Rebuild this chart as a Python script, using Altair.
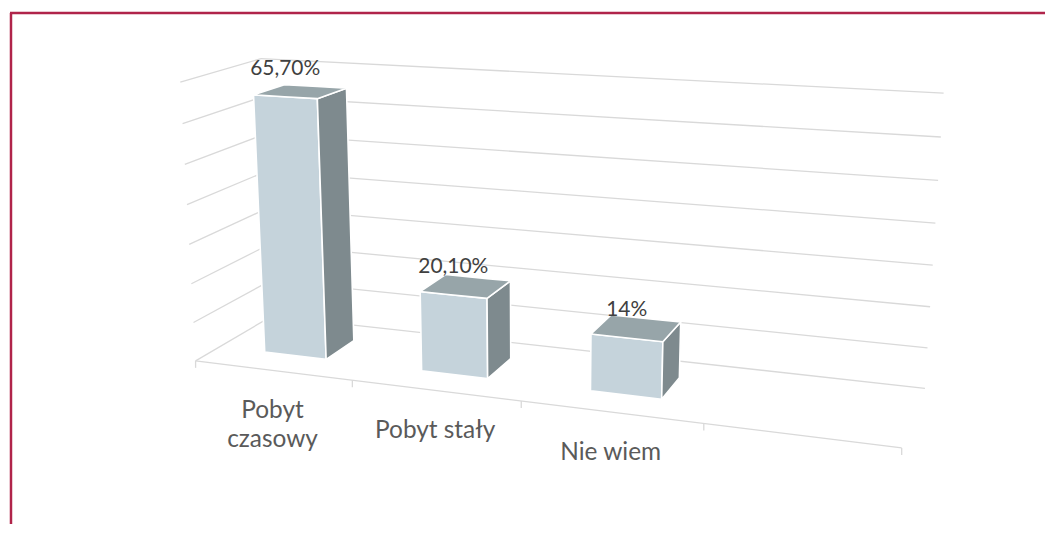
import altair as alt
import numpy as np
import pandas as pd

# ---------------- data ----------------
CATEGORIES = ["Pobyt\nczasowy", "Pobyt stały", "Nie wiem", ""]
VALUES = [65.7, 20.1, 14.0]
VALUE_LABELS = ["65,70%", "20,10%", "14%"]
GRID_VALUES = [0, 10, 20, 30, 40, 50, 60, 70]
VMAX = 70

# ---------------- 3-D view (camera) ----------------
# maps (category position, depth, value/VMAX, 1) -> page pixels
CAMERA = np.array([
    [144.699755, 99.991486, -23.05866, 194.31692],
    [5.69685, -17.650807, -283.212568, 361.229224],
    [-0.035991, 0.086364, -0.043076, 1.0],
])
BAR_U = (0.3, 0.7)   # bar extent inside its category slot
BAR_W = (0.3, 0.7)   # bar extent in depth
TICK_LEN = 7

FRONT, SIDE, TOP = "#C5D3DB", "#7E8A8E", "#97A5A9"
GRID = "#D9D9D9"
BORDER = "#B0244A"


def proj(u, w, v):
    h = CAMERA @ np.array([u, w, v / VMAX, 1.0])
    return float(h[0] / h[2]), float(h[1] / h[2])


def area_rows(poly, fid, kind):
    xs = sorted(set(p[0] for p in poly))
    rows = []
    n = len(poly)
    for x in xs:
        ys = []
        for i in range(n):
            (ax, ay), (bx, by) = poly[i], poly[(i + 1) % n]
            lo, hi = min(ax, bx), max(ax, bx)
            if lo - 1e-6 <= x <= hi + 1e-6:
                if abs(bx - ax) < 1e-9:
                    ys += [ay, by]
                else:
                    ys.append(ay + (by - ay) * (x - ax) / (bx - ax))
        rows.append(dict(face=fid, kind=kind, x=x, y=min(ys), y2=max(ys)))
    return rows


n_slots = len(CATEGORIES)

# gridlines (back wall, left wall, floor edge, ticks)
grid_rows = []
for v in GRID_VALUES:
    (x1, y1), (x2, y2) = proj(0, 1, v), proj(n_slots, 1, v)
    grid_rows.append(dict(x=x1, y=y1, x2=x2, y2=y2))
    (x1, y1), (x2, y2) = proj(0, 0, v), proj(0, 1, v)
    grid_rows.append(dict(x=x1, y=y1, x2=x2, y2=y2))
(x1, y1), (x2, y2) = proj(0, 0, 0), proj(n_slots, 0, 0)
grid_rows.append(dict(x=x1, y=y1, x2=x2, y2=y2))
for u in range(n_slots + 1):
    x1, y1 = proj(u, 0, 0)
    grid_rows.append(dict(x=x1, y=y1, x2=x1, y2=y1 + TICK_LEN))
grid_df = pd.DataFrame(grid_rows)

# bar faces
face_rows = []
vlab_rows = []
for k, val in enumerate(VALUES):
    u0, u1 = k + BAR_U[0], k + BAR_U[1]
    w0, w1 = BAR_W
    front = [proj(u0, w0, 0), proj(u1, w0, 0), proj(u1, w0, val), proj(u0, w0, val)]
    side = [proj(u1, w0, 0), proj(u1, w1, 0), proj(u1, w1, val), proj(u1, w0, val)]
    top = [proj(u0, w0, val), proj(u1, w0, val), proj(u1, w1, val), proj(u0, w1, val)]
    face_rows += area_rows(front, f"{k}f", "front")
    face_rows += area_rows(side, f"{k}s", "side")
    face_rows += area_rows(top, f"{k}t", "top")
    lx, ly = proj(k + 0.5, w0, val)
    vlab_rows.append(dict(x=lx, y=ly, label=VALUE_LABELS[k]))
face_df = pd.DataFrame(face_rows)
vlab_df = pd.DataFrame(vlab_rows)

clab_rows = []
for k, name in enumerate(CATEGORIES):
    if name:
        cx, cy = proj(k + 0.5, 0, 0)
        clab_rows.append(dict(x=cx, y=cy, label=name))
clab_df = pd.DataFrame(clab_rows)

W, H = 1039, 517
xs = alt.Scale(domain=[8, 8 + W], nice=False, zero=False)
ys = alt.Scale(domain=[8, 8 + H], nice=False, zero=False, reverse=True)
X = alt.X("x:Q", scale=xs, axis=None)
Y = alt.Y("y:Q", scale=ys, axis=None)

one = pd.DataFrame({"a": [0]})
border_top = alt.Chart(one).mark_rule(color=BORDER, strokeWidth=2.5).encode(
    x=alt.value(0), x2=alt.value(W), y=alt.value(4))
border_left = alt.Chart(one).mark_rule(color=BORDER, strokeWidth=2.5).encode(
    x=alt.value(1), y=alt.value(4), y2=alt.value(H))

grid = alt.Chart(grid_df).mark_rule(color=GRID, strokeWidth=1.3).encode(
    x=X, y=Y, x2="x2:Q", y2="y2:Q")

faces = alt.Chart(face_df).mark_area(
    stroke="white", strokeWidth=1.6, strokeJoin="round", opacity=1
).encode(
    x=X, y=Y, y2="y2:Q", detail="face:N",
    color=alt.Color("kind:N", scale=alt.Scale(domain=["front", "side", "top"],
                                              range=[FRONT, SIDE, TOP]), legend=None),
)

vlabels = alt.Chart(vlab_df).mark_text(
    font="Lato", fontSize=21, color="#404040", baseline="middle", align="center", dy=-28
).encode(x=X, y=Y, text="label:N")

clabels = alt.Chart(clab_df).mark_text(
    font="Lato", fontSize=24.5, color="#5A5A5A", baseline="top", align="center",
    dy=29, lineBreak="\n", lineHeight=29
).encode(x=X, y=Y, text="label:N")

chart = alt.layer(border_top, border_left, grid, faces, vlabels, clabels).properties(
    width=W, height=H, padding=0
).configure_view(stroke=None)

chart.save("out.html", embed_options={"renderer": "svg", "actions": False})
